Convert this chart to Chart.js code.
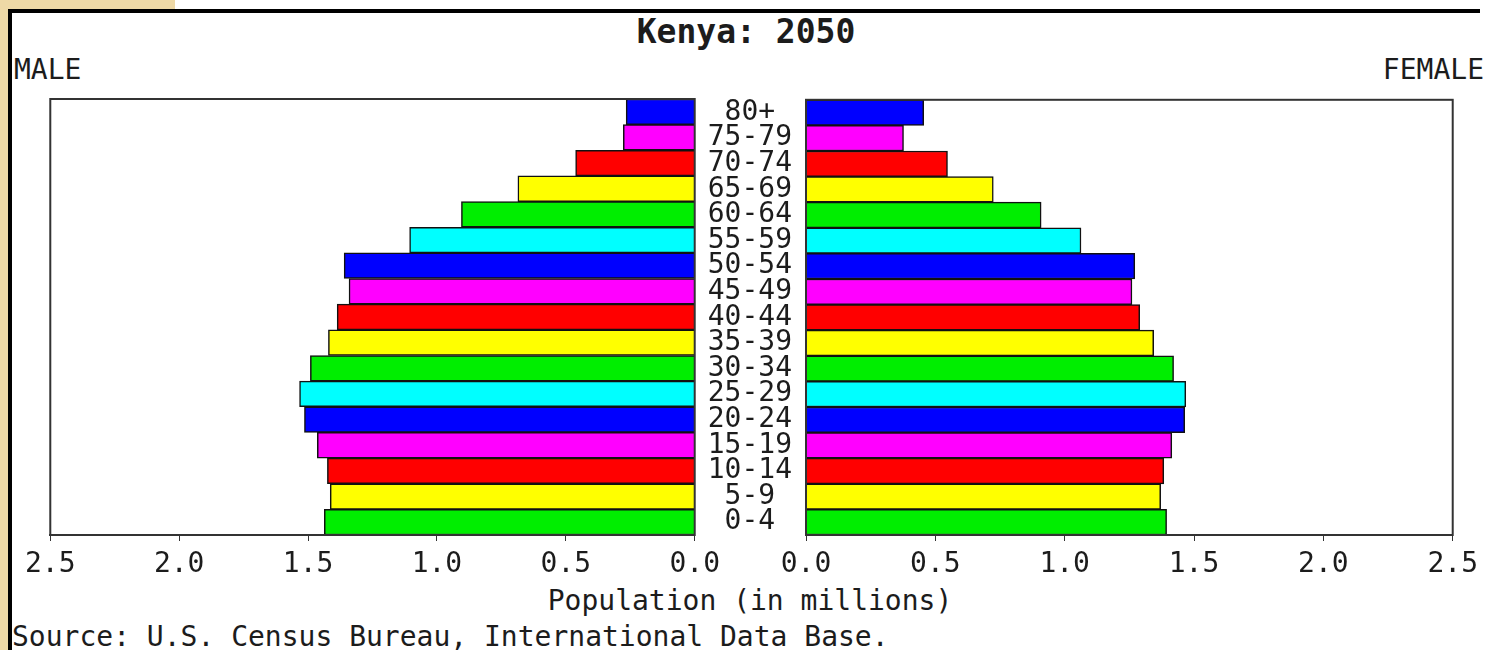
<!DOCTYPE html>
<html>
<head>
<meta charset="utf-8">
<title>Kenya: 2050</title>
<script src="https://cdn.jsdelivr.net/npm/chart.js@4.4.1/dist/chart.umd.min.js"></script>
<style>
    body {
        margin: 0;
        width: 1488px;
        height: 650px;
        overflow: hidden;
        background: #fff;
        position: relative;
        font-family: "DejaVu Sans Mono", monospace;
        color: #1c1c1c;
    }
    .tan { position: absolute; background: #eed9a6; }
    .rule { position: absolute; background: #000; }
    .txt { position: absolute; font-size: 28px; line-height: 28px; white-space: pre; }
    canvas { position: absolute; }
</style>
</head>
<body>
<div class="tan" style="left:0;top:0;width:175px;height:9px"></div>
<div class="tan" style="left:0;top:0;width:8px;height:650px"></div>
<div class="rule" style="left:8px;top:9px;width:1472px;height:4px"></div>
<div class="rule" style="left:8px;top:9px;width:4px;height:641px"></div>

<div class="txt" style="left:746px;top:15px;transform:translateX(-50%);font-size:33px;line-height:33px;font-weight:bold">Kenya: 2050</div>
<div class="txt" style="left:14px;top:56px">MALE</div>
<div class="txt" style="right:4px;top:56px">FEMALE</div>
<div class="txt" style="left:750px;top:587px;transform:translateX(-50%)">Population (in millions)</div>
<div class="txt" style="left:12px;top:623px">Source: U.S. Census Bureau, International Data Base.</div>

<canvas id="male" width="709" height="516" style="left:18px;top:69px"></canvas>
<canvas id="female" width="788" height="516" style="left:697px;top:69px"></canvas>

<script>
// age groups bottom-up, population in millions
const ageGroups = ['0-4', '5-9', '10-14', '15-19', '20-24', '25-29', '30-34', '35-39', '40-44',
    '45-49', '50-54', '55-59', '60-64', '65-69', '70-74', '75-79', '80+'];
const male = [1.437, 1.414, 1.425, 1.464, 1.514, 1.533, 1.491, 1.421, 1.387,
    1.341, 1.360, 1.106, 0.905, 0.686, 0.462, 0.277, 0.266];
const female = [1.394, 1.371, 1.383, 1.414, 1.464, 1.468, 1.421, 1.344, 1.290,
    1.260, 1.271, 1.063, 0.909, 0.724, 0.547, 0.377, 0.455];
const barColors = ['#00ee00', '#ffff00', '#ff0000', '#ff00ff', '#0000ff', '#00ffff'];

const font = {family: '"DejaVu Sans Mono", monospace', size: 28};
const ink = '#1c1c1c';

// box around the plot area
const frame = {
    id: 'frame',
    afterDraw(chart) {
        const {ctx, chartArea: a} = chart;
        ctx.save();
        ctx.strokeStyle = '#333';
        ctx.lineWidth = 2;
        ctx.strokeRect(a.left, a.top, a.right - a.left, a.bottom - a.top);
        ctx.restore();
    }
};

function makeChart(id, values, isMale) {
    return new Chart(document.getElementById(id), {
        type: 'bar',
        data: {
            labels: ageGroups,
            datasets: [{
                data: values,
                backgroundColor: ageGroups.map((_, i) => barColors[i % barColors.length]),
                borderColor: '#111',
                borderWidth: 1.5,
                barPercentage: 1,
                categoryPercentage: 1
            }]
        },
        options: {
            indexAxis: 'y',
            responsive: false,
            animation: false,
            devicePixelRatio: 1,
            layout: {padding: {left: isMale ? 30 : 0, right: 30, top: 30, bottom: 0}},
            plugins: {legend: {display: false}, tooltip: {enabled: false}},
            scales: {
                x: {
                    min: 0,
                    max: 2.5,
                    reverse: isMale,
                    afterFit: s => { s.height = 50; },
                    border: {display: true, color: '#333', width: 2},
                    grid: {drawOnChartArea: false, drawTicks: true, tickLength: 6, color: '#333'},
                    ticks: {
                        stepSize: 0.5,
                        autoSkip: false,
                        maxRotation: 0,
                        padding: 7,
                        color: ink,
                        font: font,
                        callback: v => Number(v).toFixed(1)
                    }
                },
                y: {
                    reverse: true,
                    display: !isMale,
                    // age labels sit in the gap between the two panels
                    afterFit: s => { s.width = isMale ? 0 : 109; },
                    border: {display: false},
                    grid: {display: false, drawTicks: false},
                    ticks: {crossAlign: 'center', padding: 14, color: ink, font: font, autoSkip: false}
                }
            }
        },
        plugins: [frame]
    });
}

makeChart('male', male, true);
makeChart('female', female, false);
</script>
</body>
</html>
